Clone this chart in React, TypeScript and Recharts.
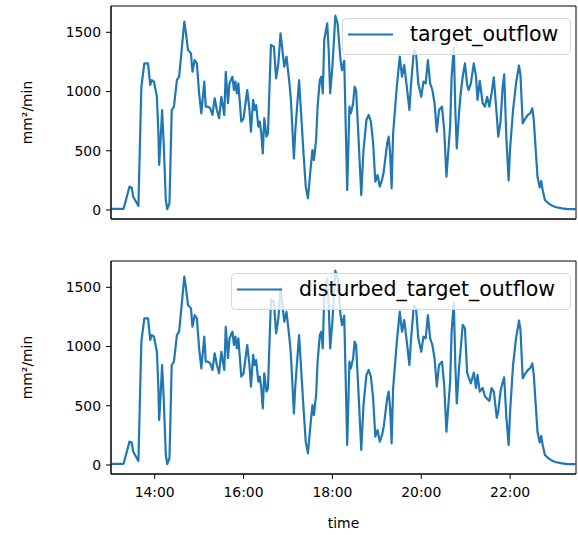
import React from 'react';
import { LineChart, Line, XAxis, YAxis, Legend, ReferenceArea } from 'recharts';

const times = [
  '13:01','13:18','13:26','13:29','13:31','13:38','13:42','13:46','13:51','13:54','13:56','13:59',
  '14:03','14:05','14:06','14:08','14:10','14:12','14:15','14:17','14:20','14:23','14:26','14:30',
  '14:33','14:36','14:40','14:42','14:45','14:49','14:51','14:54','14:57','15:00','15:03','15:07',
  '15:09','15:12','15:15','15:18','15:21','15:24','15:27','15:30','15:34','15:36','15:39','15:41',
  '15:45','15:47','15:49','15:51','15:53','15:57','16:00','16:05','16:08','16:10','16:13','16:15',
  '16:17','16:20','16:22','16:24','16:26','16:28','16:31','16:33','16:37','16:41','16:44','16:47',
  '16:50','16:53','16:55','16:58','17:02','17:04','17:08','17:10','17:12','17:15','17:18','17:21',
  '17:24','17:27','17:30','17:33','17:35','17:38','17:40','17:43','17:45','17:47','17:49','17:53',
  '17:55','17:57','18:00','18:04','18:07','18:11','18:13','18:16','18:20','18:23','18:25','18:28',
  '18:30','18:32','18:35','18:39','18:42','18:46','18:49','18:52','18:55','18:58','19:01','19:04',
  '19:07','19:09','19:14','19:16','19:18','19:20','19:22','19:27','19:31','19:34','19:37','19:41',
  '19:44','19:46','19:50','19:53','19:56','20:00','20:03','20:06','20:09','20:12','20:15','20:18',
  '20:21','20:24','20:28','20:31','20:34','20:36','20:39','20:41','20:44','20:46','20:48','20:51',
  '20:53','20:56','20:59','21:02','21:04','21:07','21:11','21:14','21:16','21:19','21:23','21:26',
  '21:29','21:32','21:35','21:38','21:42','21:44','21:47','21:50','21:52','21:55','21:58','22:00',
  '22:04','22:08','22:12','22:14','22:17','22:20','22:24','22:27','22:30','22:32','22:35','22:37',
  '22:40','22:42','22:44','22:47','22:52','22:57','23:01','23:10','23:18','23:29',
];

const targetOutflow = [
  10,10,197,190,112,34,1041,1238,1238,1055,1097,1083,
  956,650,380,591,844,591,84,8,59,844,872,1097,
  1125,1322,1590,1505,1350,1322,1167,1266,1238,985,816,1083,
  872,872,858,802,943,844,774,956,802,1167,901,1069,
  1125,1013,1083,985,1069,745,774,1013,844,661,929,844,
  886,703,745,647,478,774,619,647,1393,1378,1111,1238,
  1491,1322,1210,1294,1069,929,436,675,844,1097,788,478,
  197,99,310,506,422,591,872,1097,1125,985,1435,1576,
  1350,985,1210,1640,1576,1266,1180,1260,169,872,816,901,
  1041,1013,647,127,506,760,802,746,563,239,295,197,
  253,310,563,619,478,183,647,1041,1294,1125,1224,1013,
  844,1041,1350,1322,1069,956,1083,1069,1266,1069,1013,901,
  661,844,872,675,281,450,703,1125,1370,844,520,816,
  970,1125,1238,1060,1013,1069,1238,1125,929,1090,901,872,
  956,872,985,1120,800,619,740,1041,1145,600,250,520,
  844,1069,1220,1140,732,767,802,816,858,760,470,281,
  190,245,169,84,56,35,25,14,8,7,
];

const disturbedTargetOutflow = [
  10,10,197,190,112,34,1041,1238,1238,1055,1097,1083,
  956,650,380,591,844,591,84,8,59,844,872,1097,
  1125,1322,1590,1505,1350,1322,1167,1266,1238,985,816,1083,
  872,872,858,802,943,844,774,956,802,1167,901,1069,
  1125,1013,1083,985,1069,745,774,1013,844,661,929,844,
  886,703,745,647,478,774,619,647,1393,1378,1111,1238,
  1491,1322,1210,1294,1069,929,436,675,844,1097,788,478,
  197,99,310,506,422,591,872,1097,1125,985,1435,1576,
  1350,985,1210,1640,1576,1266,1180,1260,169,872,816,901,
  1041,1013,647,127,506,760,802,746,563,239,295,197,
  253,310,563,619,478,183,647,1041,1294,1125,1224,1013,
  844,1041,1350,1322,1069,956,1083,1069,1266,1069,1013,901,
  661,844,872,675,281,450,703,1125,1370,844,520,816,
  960,1182,1154,780,740,690,780,650,760,620,650,580,
  560,540,650,620,400,450,620,700,740,400,170,450,
  844,1069,1220,1140,732,767,802,816,858,760,470,281,
  190,245,169,84,56,35,25,14,8,7,
];

const xTickLabels = ['14:00', '16:00', '18:00', '20:00', '22:00'];
const xRange = ['13:01', '23:29'];
const yTicks = [0, 500, 1000, 1500];
const yRange = [-76, 1722];

const toMin = (s: string) => {
  const [h, m] = s.split(':').map(Number);
  return h * 60 + m;
};
const fmtTime = (v: number) => `${Math.floor(v / 60)}:${String(Math.round(v % 60)).padStart(2, '0')}`;

const data = times.map((t, i) => ({
  t: toMin(t),
  target_outflow: targetOutflow[i],
  disturbed_target_outflow: disturbedTargetOutflow[i],
}));

const xTicks = xTickLabels.map(toMin);
const xDomain = xRange.map(toMin);

const FONT = "'DejaVu Sans', sans-serif";
const BLUE = '#1f77b4';
const tickStyle = { fontFamily: FONT, fontSize: 13.9, fill: '#000' };

function YLab(props: any) {
  const vb = props.viewBox || { y: 0, height: 0 };
  const cy = vb.y + vb.height / 2;
  const cx = 27;
  return (
    <text
      x={cx}
      y={cy}
      transform={`rotate(-90, ${cx}, ${cy})`}
      textAnchor="middle"
      dominantBaseline="central"
      style={{ fontFamily: FONT, fontSize: 13.9, fill: '#000' }}
    >
      mm²/min
    </text>
  );
}

function XLab(props: any) {
  const vb = props.viewBox || { x: 0, y: 0, width: 0 };
  const cx = vb.x + vb.width / 2;
  return (
    <text
      x={cx}
      y={vb.y + 54}
      textAnchor="middle"
      style={{ fontFamily: FONT, fontSize: 13.9, fill: '#000' }}
    >
      time
    </text>
  );
}

const makeLegend = (name: string, width: number) => () => (
  <svg width={width} height={37} style={{ display: 'block', overflow: 'visible' }}>
    <rect
      x={0.5}
      y={0.5}
      width={width - 1}
      height={36}
      rx={4}
      ry={4}
      fill="#ffffff"
      fillOpacity={0.8}
      stroke="#d6d6d6"
      strokeWidth={1}
    />
    <line x1={6} x2={51} y1={16.5} y2={16.5} stroke={BLUE} strokeWidth={2.2} />
    <text x={68} y={23.4} style={{ fontFamily: FONT, fontSize: 20.5, fill: '#000' }}>
      {name}
    </text>
  </svg>
);

type PanelProps = {
  dataKey: string;
  height: number;
  marginTop: number;
  xAxisHeight: number;
  showXLabels: boolean;
  legendLeft: number;
  legendTop: number;
  legendWidth: number;
};

function Panel(p: PanelProps) {
  return (
    <LineChart
      width={578}
      height={p.height}
      data={data}
      margin={{ top: p.marginTop, right: 2, bottom: 0, left: 0 }}
    >
      <XAxis
        dataKey="t"
        type="number"
        domain={xDomain}
        allowDataOverflow
        ticks={xTicks}
        interval={0}
        tickFormatter={fmtTime}
        height={p.xAxisHeight}
        tickSize={5}
        tickMargin={8}
        tick={p.showXLabels ? tickStyle : false}
        tickLine={{ stroke: '#000', strokeWidth: 1 }}
        axisLine={{ stroke: '#000', strokeWidth: 1 }}
        label={p.showXLabels ? <XLab /> : undefined}
      />
      <YAxis
        type="number"
        domain={yRange}
        allowDataOverflow
        ticks={yTicks}
        interval={0}
        width={111}
        tickSize={5}
        tickMargin={5}
        tick={tickStyle}
        tickLine={{ stroke: '#000', strokeWidth: 1 }}
        axisLine={{ stroke: '#000', strokeWidth: 1 }}
        label={<YLab />}
      />
      <Line
        type="linear"
        dataKey={p.dataKey}
        name={p.dataKey}
        stroke={BLUE}
        strokeWidth={2.2}
        strokeLinejoin="round"
        dot={false}
        activeDot={false}
        isAnimationActive={false}
      />
      <ReferenceArea
        x1={xDomain[0]}
        x2={xDomain[1]}
        y1={yRange[0]}
        y2={yRange[1]}
        fill="none"
        fillOpacity={0}
        stroke="#000"
        strokeWidth={1}
        ifOverflow="visible"
      />
      <Legend
        layout="horizontal"
        verticalAlign="middle"
        align="center"
        content={makeLegend(p.dataKey, p.legendWidth)}
        wrapperStyle={{
          position: 'absolute',
          left: p.legendLeft,
          top: p.legendTop,
          width: p.legendWidth,
          height: 37,
          margin: 0,
          padding: 0,
        }}
      />
    </LineChart>
  );
}

export default function App() {
  return (
    <div
      style={{
        position: 'absolute',
        left: 0,
        top: 0,
        width: 578,
        height: 535,
        overflow: 'hidden',
        background: '#fff',
      }}
    >
      <div style={{ position: 'absolute', left: 0, top: 0 }}>
        <Panel
          dataKey="target_outflow"
          height={240}
          marginTop={6}
          xAxisHeight={21}
          showXLabels={false}
          legendLeft={342}
          legendTop={18}
          legendWidth={229}
        />
      </div>
      <div style={{ position: 'absolute', left: 0, top: 240 }}>
        <Panel
          dataKey="disturbed_target_outflow"
          height={295}
          marginTop={21}
          xAxisHeight={61}
          showXLabels={true}
          legendLeft={231}
          legendTop={33}
          legendWidth={340}
        />
      </div>
    </div>
  );
}
